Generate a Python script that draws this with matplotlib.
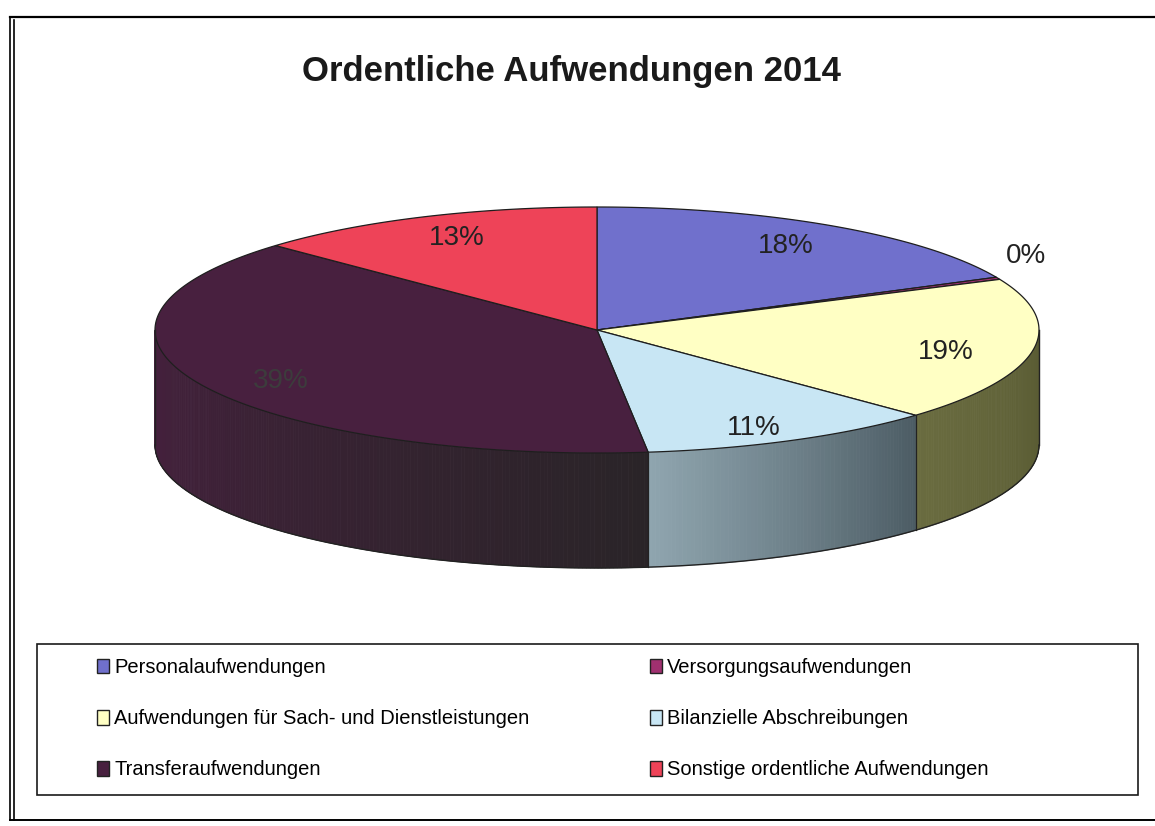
import numpy as np
import matplotlib
matplotlib.use("Agg")
import matplotlib.pyplot as plt
from matplotlib.patches import Polygon, Rectangle, Patch
from matplotlib.colors import to_rgb

plt.rcParams['font.family'] = ['Liberation Sans', 'DejaVu Sans']

# data (shares in percent)
categories = ["Personalaufwendungen", "Versorgungsaufwendungen",
              "Aufwendungen für Sach- und Dienstleistungen",
              "Bilanzielle Abschreibungen", "Transferaufwendungen",
              "Sonstige ordentliche Aufwendungen"]
values = [18, 0.3, 19, 11, 39, 13]

# styling
top_colors = ['#7070cc', '#a03070', '#ffffc4', '#c8e6f4', '#48203f', '#ee4358']
side_colors = [('#50509a', '#3a3a78'), ('#702050', '#501838'),
               ('#6a6c40', '#585a32'), ('#90a6b0', '#4c5c64'),
               ('#46203e', '#2a2428'), ('#a02838', '#801f2c')]
label_colors = ['#222222', '#222222', '#222222', '#222222', '#3c3c3c', '#222222']

cx, cy = 597, 330        # pie centre (pixels)
rx, ry = 442, 123        # ellipse radii
depth = 115              # thickness of the pie


def pt(t, dz=0):
    t = np.radians(t)
    return cx + rx * np.cos(t), cy - ry * np.sin(t) + dz


fig = plt.figure(figsize=(11.55, 8.26), dpi=100)
ax = fig.add_axes([0, 0, 1, 1])
ax.set_xlim(0, 1155)
ax.set_ylim(826, 0)
ax.axis('off')

# outer frame of the scanned page
ax.plot([10, 1155], [17, 17], color='k', lw=1.6)
ax.plot([10, 10], [17, 820], color='k', lw=1.2)
ax.plot([14, 14], [20, 820], color='k', lw=1.2)
ax.plot([10, 1155], [820, 820], color='k', lw=1.4)

ax.text(571, 72, "Ordentliche Aufwendungen 2014", fontsize=25, fontweight='bold',
        ha='center', va='center', color='#1a1a1a')

fracs = np.array(values) / sum(values)
ends = 90 - 360 * np.cumsum(fracs)
starts = np.concatenate([[90], ends[:-1]])

# side walls (front half only, angles between -180 and 0)
for i in range(len(values)):
    a_hi, a_lo = starts[i], ends[i]
    for shift in (0, -360):
        lo = max(a_lo - shift, -180)
        hi = min(a_hi - shift, 0)
        if hi <= lo:
            continue
        n = max(int((hi - lo) * 2), 2)
        ts = np.linspace(hi, lo, n + 1)
        c1 = np.array(to_rgb(side_colors[i][0]))
        c2 = np.array(to_rgb(side_colors[i][1]))
        for k in range(n):
            ta, tb = ts[k], ts[k + 1]
            w = (ta - lo) / (hi - lo)   # 0 at left end, 1 at right end
            col = c1 * (1 - w) + c2 * w
            seg = np.linspace(ta, tb, 4)
            top = [pt(t) for t in seg]
            bot = [pt(t, depth) for t in seg[::-1]]
            ax.add_patch(Polygon(top + bot, closed=True, facecolor=col,
                                 edgecolor=col, lw=0.6))
        # edge lines of the wall segment
        for t in (hi, lo):
            if -180 < t < 0:
                x0, y0 = pt(t)
                ax.plot([x0, x0], [y0, y0 + depth], color='#222222', lw=0.8)

# outline of the wall
ts = np.linspace(0, -180, 200)
bx = [pt(t, depth)[0] for t in ts]
by = [pt(t, depth)[1] for t in ts]
ax.plot(bx, by, color='#222222', lw=1.0)
for t in (0, -180):
    x0, y0 = pt(t)
    ax.plot([x0, x0], [y0, y0 + depth], color='#222222', lw=1.0)

# top faces
for i in range(len(values)):
    n = max(int((starts[i] - ends[i]) * 2), 2)
    ts = np.linspace(starts[i], ends[i], n + 1)
    poly = [(cx, cy)] + [pt(t) for t in ts]
    ax.add_patch(Polygon(poly, closed=True, facecolor=top_colors[i],
                         edgecolor='#1e1e1e', lw=0.9))

# percentage labels
for i in range(len(values)):
    mid = (starts[i] + ends[i]) / 2
    pct = f"{round(fracs[i] * 100)}%"
    x, y = pt(mid)
    if fracs[i] < 0.02:
        x, y = x + 28, y - 22
    else:
        x, y = cx + 0.8 * (x - cx), cy + 0.85 * (y - cy) + 4
    ax.text(x, y, pct, fontsize=20, ha='center', va='center', color=label_colors[i])

# legend
ax.add_patch(Rectangle((37, 644), 1101, 151, facecolor='none',
                       edgecolor='#1a1a1a', lw=1.2))
handles = [Patch(facecolor=top_colors[i], edgecolor='#222222', lw=1.0)
           for i in range(len(values))]
order = [0, 2, 4, 1, 3, 5]
fig.legend([handles[i] for i in order], [categories[i] for i in order],
           ncol=2, loc='upper left', bbox_to_anchor=(97 / 1155, 1 - 658 / 826),
           frameon=False, fontsize=14.5, handlelength=0.6, handleheight=0.75,
           handletextpad=0.25, labelspacing=1.6, columnspacing=6.0,
           borderpad=0, borderaxespad=0)

fig.savefig("out.png", dpi=100)
